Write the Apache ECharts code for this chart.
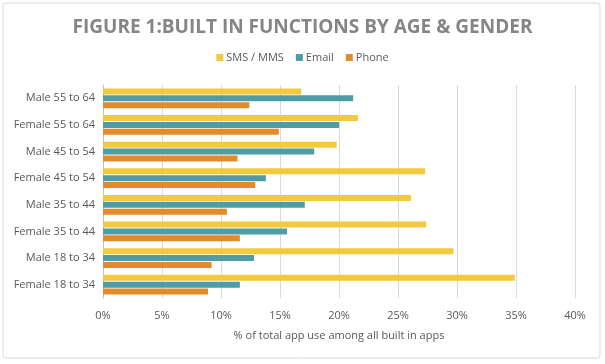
<!DOCTYPE html>
<html><head><meta charset="utf-8">
<script src="https://cdn.jsdelivr.net/npm/echarts@6/dist/echarts.min.js"></script>
<style>html,body{margin:0;padding:0;background:#fff}#c{width:605px;height:364px}</style>
</head><body><div id="c"></div>
<script>
const categories = ["Male 55 to 64","Female 55 to 64","Male 45 to 54","Female 45 to 54","Male 35 to 44","Female 35 to 44","Male 18 to 34","Female 18 to 34"];
const sms = [16.8, 21.6, 19.8, 27.3, 26.1, 27.4, 29.7, 34.9];
const email = [21.2, 20.0, 17.9, 13.8, 17.1, 15.6, 12.8, 11.6];
const phone = [12.4, 14.9, 11.4, 12.9, 10.5, 11.6, 9.2, 8.9];
const xTicks = [0, 5, 10, 15, 20, 25, 30, 35, 40];

const chart = echarts.init(document.getElementById('c'), null, {renderer:'canvas'});
const mk = (name, data, color) => ({name, type:'bar', data, barWidth:6, barGap:'15%', itemStyle:{color}});
chart.setOption({
  animation:false,
  textStyle:{fontFamily:'Open Sans'},
  graphic:[{type:'rect', shape:{x:3,y:3,width:597,height:355,r:3}, style:{fill:'none', stroke:'#d9d9d9', lineWidth:1}, silent:true}],
  title:{text:'FIGURE 1:BUILT IN FUNCTIONS BY AGE & GENDER', left:'center', top:13,
    textStyle:{fontSize:19, fontWeight:'bold', color:'#858585', fontFamily:'Open Sans'}},
  legend:{top:47, left:'center', itemWidth:7, itemHeight:7, itemGap:12, icon:'rect',
    textStyle:{fontSize:11, color:'#595959', padding:[0,0,0,-2]}, data:['SMS / MMS','Email','Phone']},
  grid:{left:103, right:30, top:85, bottom:66, containLabel:false},
  xAxis:{type:'value', min:0, max:40, interval:5,
    axisLine:{show:false}, axisTick:{show:false},
    splitLine:{lineStyle:{color:'#d9d9d9'}},
    axisLabel:{color:'#595959', fontSize:11, margin:12, formatter: v => xTicks.includes(v) ? v + '%' : ''},
    name:'% of total app use among all built in apps', nameLocation:'middle', nameGap:32,
    nameTextStyle:{color:'#595959', fontSize:11}},
  yAxis:{type:'category', data:categories, inverse:true,
    axisLine:{lineStyle:{color:'#bfbfbf'}}, axisTick:{show:false},
    axisLabel:{color:'#595959', fontSize:11, margin:8}},
  series:[mk('SMS / MMS', sms, '#F2C93F'), mk('Email', email, '#4F9CA6'), mk('Phone', phone, '#E38B2C')]
});
</script></body></html>
